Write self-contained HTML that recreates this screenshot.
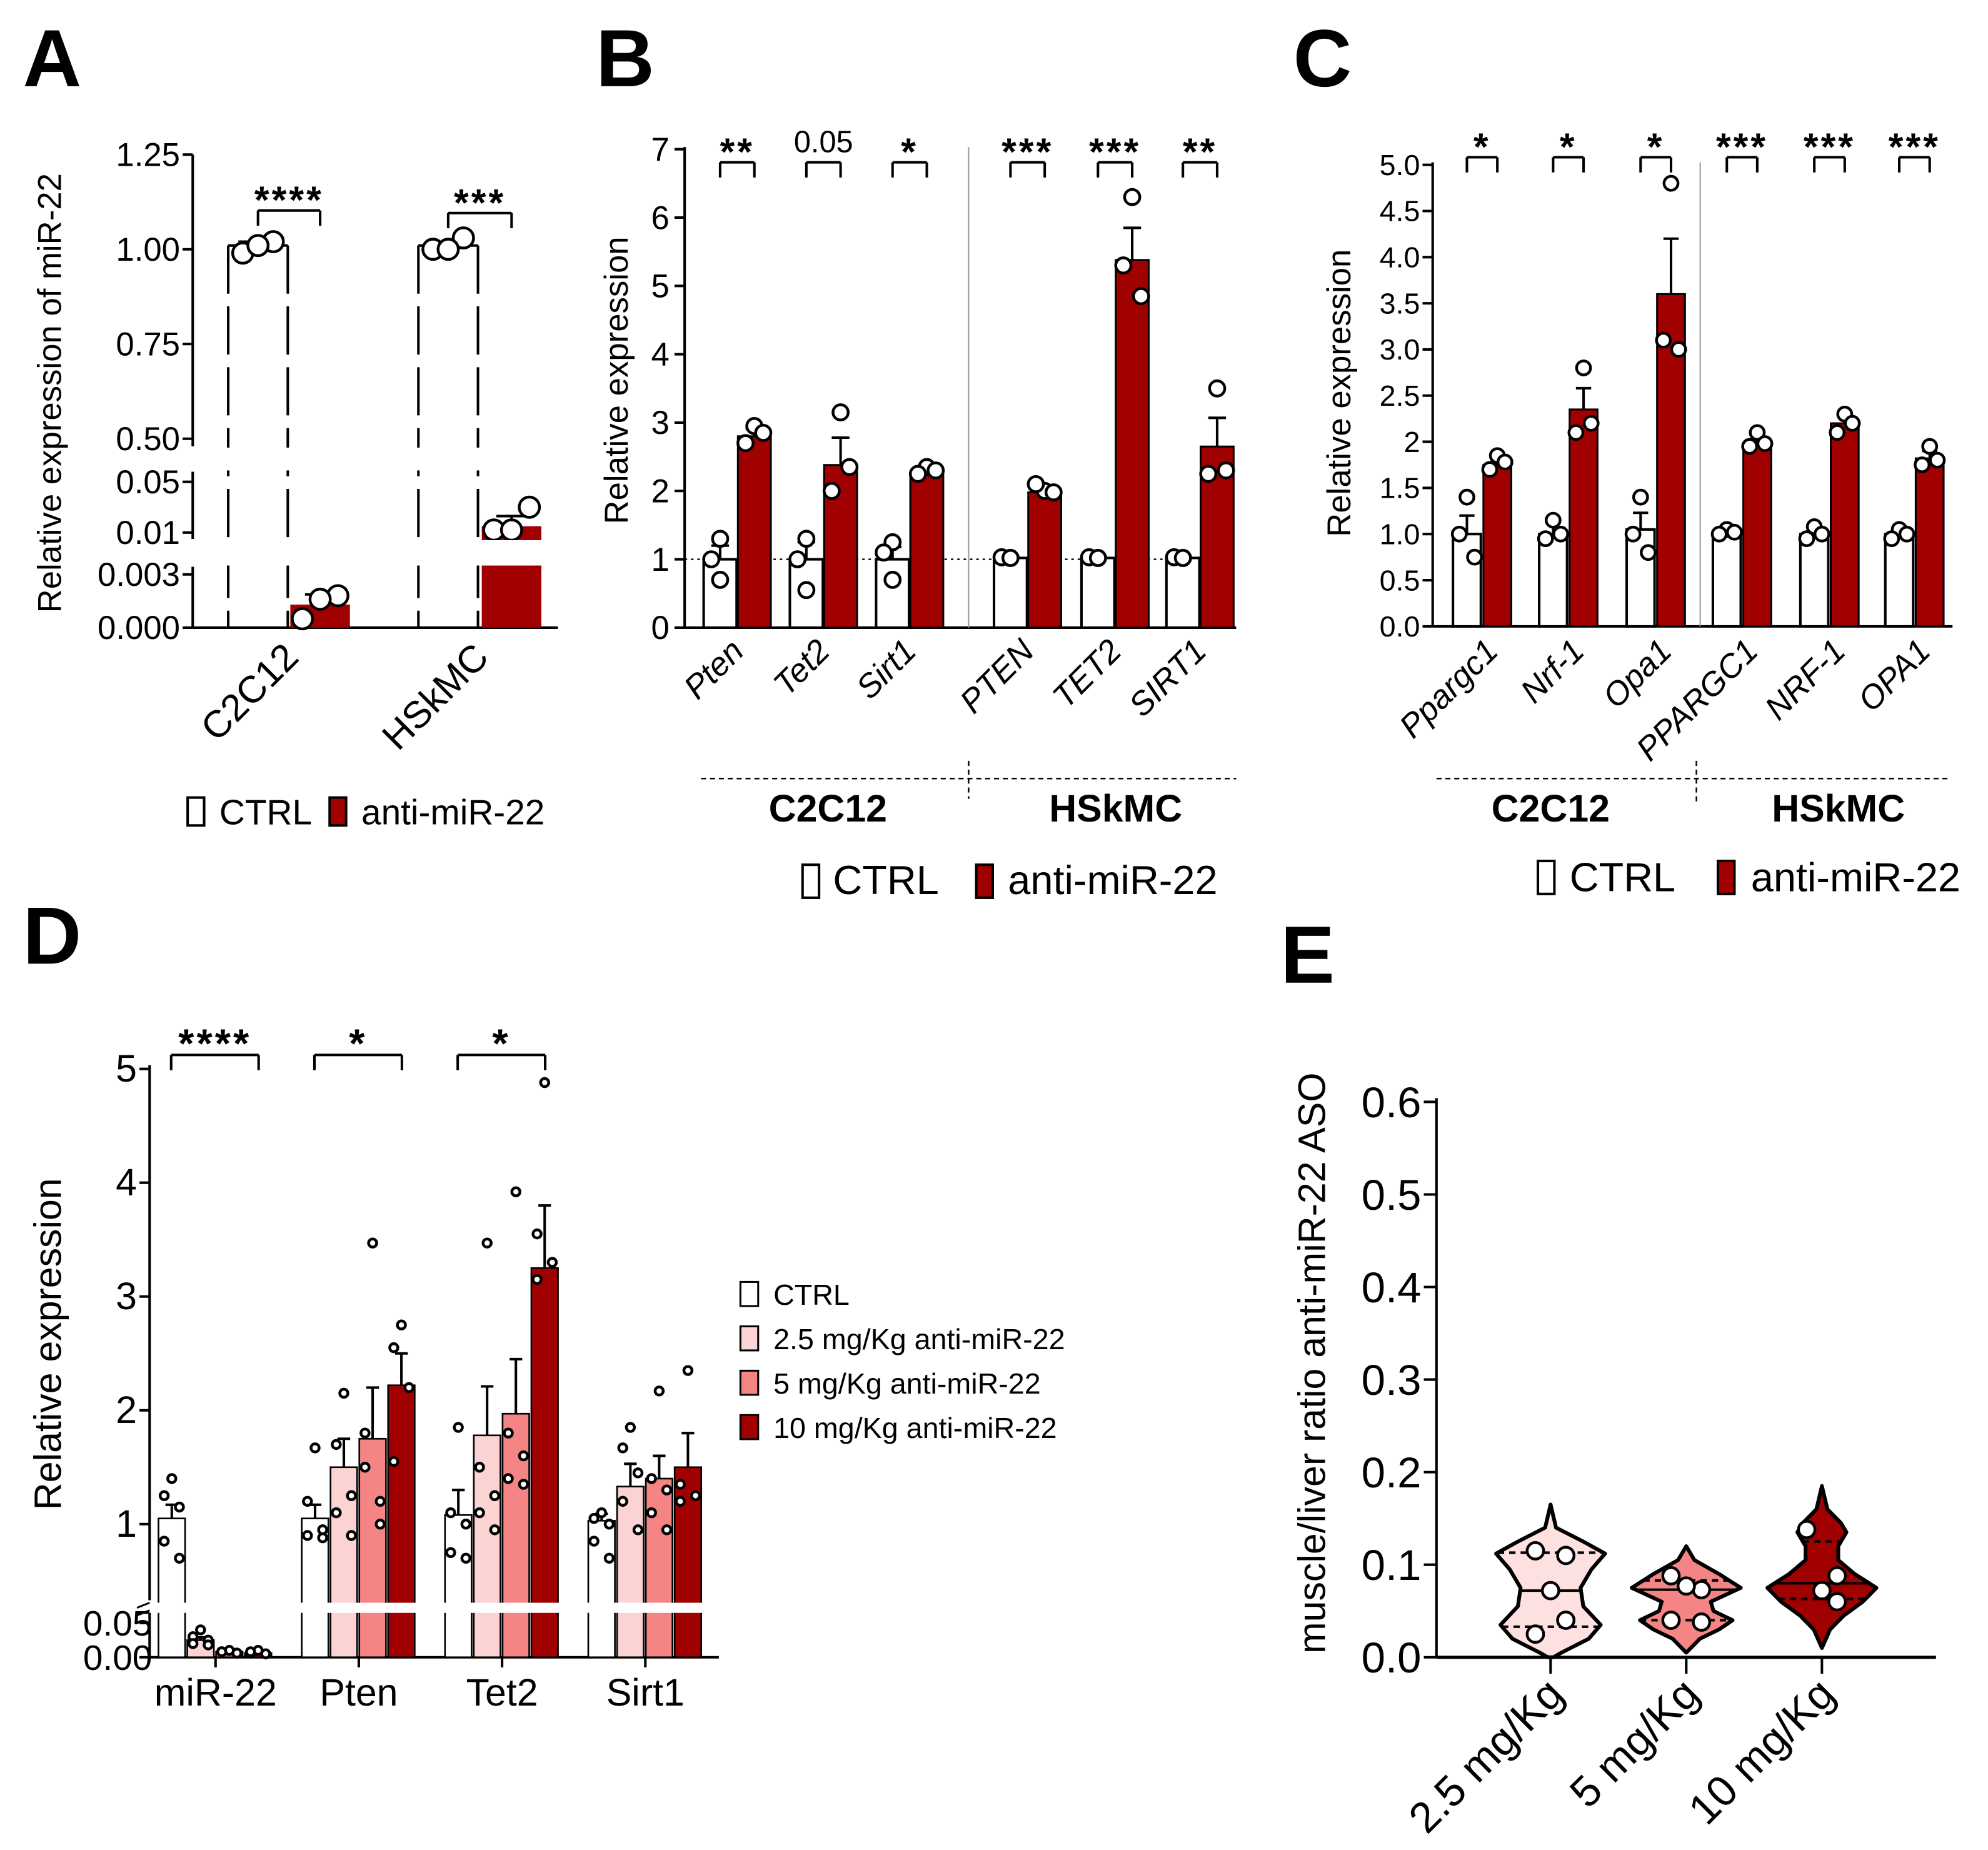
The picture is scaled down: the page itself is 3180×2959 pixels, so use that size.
<!DOCTYPE html>
<html><head><meta charset="utf-8"><style>
html,body{margin:0;padding:0;background:#fff}
svg{display:block;font-family:"Liberation Sans",Arial,sans-serif}
</style></head><body>
<svg id="fig" xmlns="http://www.w3.org/2000/svg" width="3180" height="2959" viewBox="0 0 1568 1459" preserveAspectRatio="none">
<rect width="1568" height="1459" fill="#fff"/>
<text x="18" y="68" font-size="64" font-weight="bold">A</text>
<text x="470" y="68" font-size="64" font-weight="bold">B</text>
<text x="1020" y="68" font-size="64" font-weight="bold">C</text>
<text x="18" y="760" font-size="64" font-weight="bold">D</text>
<text x="1010" y="775" font-size="64" font-weight="bold">E</text>
</svg>
<script>
const RED="#a00000", PINK="#fbd3d3", SALMON="#f58585", LPINK="#fde0e0";
// ---------- data ----------
const aCats=["C2C12","HSkMC"];
const aCtrl=[1.01,1.01];
const aAnti=[0.0013,0.015];
const aCtrlPts=[[0.99,1.02,1.01],[1.0,1.03,1.0]];
const aAntiPts=[[0.0005,0.0018,0.0016],[0.012,0.03,0.012]];
const aSig=["****","***"];
const bCats=["Pten","Tet2","Sirt1","PTEN","TET2","SIRT1"];
const bCtrl=[1.0,1.0,1.0,1.02,1.02,1.02];
const bAnti=[2.8,2.38,2.28,1.98,5.38,2.65];
const bErr=[0.12,0.4,0.05,0.08,0.47,0.42];
const bCtrlErr=[0.2,0.25,0.18,0.02,0.02,0.02];
const bCtrlPts=[[1.3,1.0,0.7],[1.3,1.0,0.55],[1.25,1.1,0.7],[1.02,1.03,1.02],[1.02,1.03,1.02],[1.02,1.03,1.02]];
const bAntiPts=[[2.95,2.7,2.85],[3.15,2.0,2.35],[2.35,2.25,2.3],[2.0,2.1,1.98],[6.3,5.3,4.85],[3.5,2.25,2.3]];
const bSig=["**","0.05","*","***","***","**"];
const bTicks=[0,1,2,3,4,5,6,7];
const cCats=["Ppargc1","Nrf-1","Opa1","PPARGC1","NRF-1","OPA1"];
const cCtrl=[1.0,1.0,1.05,1.02,1.0,1.0];
const cAnti=[1.75,2.35,3.6,1.98,2.2,1.82];
const cErr=[0.08,0.23,0.6,0.1,0.08,0.08];
const cCtrlErr=[0.2,0.15,0.18,0.05,0.06,0.05];
const cCtrlPts=[[1.4,1.0,0.75],[1.15,0.95,1.0],[1.4,1.0,0.8],[1.05,1.0,1.02],[1.08,0.95,1.0],[1.05,0.95,1.0]];
const cAntiPts=[[1.85,1.7,1.78],[2.8,2.1,2.2],[4.8,3.1,3.0],[2.1,1.95,1.98],[2.3,2.1,2.2],[1.95,1.75,1.8]];
const cSig=["*","*","*","***","***","***"];
const cTicks=["0.0","0.5","1.0","1.5","2","2.5","3.0","3.5","4.0","4.5","5.0"];
const dCats=["miR-22","Pten","Tet2","Sirt1"];
const dSeries=["CTRL","2.5 mg/Kg anti-miR-22","5 mg/Kg anti-miR-22","10 mg/Kg anti-miR-22"];
const dVals=[[1.05,0.025,0.008,0.006],[1.05,1.5,1.75,2.22],[1.08,1.78,1.97,3.25],[1.03,1.33,1.4,1.5]];
const dErr=[[0.12,0.004,0.002,0.002],[0.12,0.25,0.45,0.28],[0.22,0.43,0.48,0.55],[0.06,0.2,0.2,0.3]];
const dPts=[[[1.4,1.25,1.15,0.85,0.7],[0.04,0.03,0.025,0.02,0.018],[0.01,0.008,0.006,0.008,0.006],[0.01,0.006,0.005,0.008]],
[[1.67,1.2,0.95,0.9,0.88],[2.15,1.7,1.25,1.1,0.9],[3.47,1.8,1.2,1.5,1.0],[2.75,2.55,2.2,1.55]],
[[1.85,1.1,1.0,0.75,0.7],[3.47,1.5,1.25,1.1,0.95],[3.92,1.8,1.6,1.4,1.35],[4.88,3.55,3.3,3.15]],
[[1.1,1.05,1.0,0.85,0.7],[1.85,1.67,1.45,1.2,0.95],[2.17,1.4,1.3,1.1,0.95],[2.35,1.35,1.25,1.2]]];
const dSig=["****","*","*",""];
const eCats=["2.5 mg/Kg","5 mg/Kg","10 mg/Kg"];
const eTicks=[0,0.1,0.2,0.3,0.4,0.5,0.6];
const eProfV=[[0.165,0.14,0.125,0.112,0.095,0.075,0.055,0.035,0.02,0.005,0],[0.12,0.105,0.09,0.075,0.06,0.05,0.04,0.03,0.02,0.005],[0.185,0.16,0.145,0.135,0.12,0.105,0.09,0.075,0.06,0.045,0.03,0.01]];
const eProfW=[[0,0.1,0.6,1,0.75,0.55,0.6,0.92,0.7,0.2,0.05],[0,0.15,0.6,1,0.45,0.5,0.85,0.6,0.25,0],[0,0.1,0.35,0.45,0.3,0.3,0.6,1,0.75,0.4,0.15,0]];
const eMed=[0.072,0.073,0.08];
const eQ1=[0.033,0.04,0.063];
const eQ3=[0.113,0.083,0.125];
const ePts=[[0.115,0.11,0.072,0.04,0.025],[0.088,0.073,0.077,0.038,0.04],[0.138,0.088,0.072,0.06]];
// ---------- helpers ----------
const svg=document.getElementById('fig');const NS="http://www.w3.org/2000/svg";
function mk(tag,at,parent){const e=document.createElementNS(NS,tag);for(const k in at)e.setAttribute(k,at[k]);(parent||svg).appendChild(e);return e;}
function line(x1,y1,x2,y2,w,name,dash){const e=mk('line',{x1,y1,x2,y2,stroke:'#000','stroke-width':w||2});if(dash)e.setAttribute('stroke-dasharray',dash);

return e;}
function txt(x,y,s,size,anchor,name,extra){const e=mk('text',{x,y,'font-size':size,'text-anchor':anchor||'start'});e.textContent=s;if(extra)for(const k in extra)e.setAttribute(k,extra[k]);

return e;}
function rect(x,y,w,h,fill,name,sw){const e=mk('rect',{x,y,width:w,height:Math.max(0,h),fill,stroke:'#000','stroke-width':sw==null?2:sw});

return e;}
function dot(x,y,r,name){const e=mk('circle',{cx:x,cy:y,r:r,fill:'#fff',stroke:'#000','stroke-width':2.2});

return e;}
function errb(x,yTop,yErr,cap,name){line(x,yTop,x,yErr,2,name);line(x-cap,yErr,x+cap,yErr,2,name+'-cap');}
function bracket(x1,x2,y,label,size,name){line(x1,y,x2,y,2,name);line(x1,y,x1,y+12,2,name);line(x2,y,x2,y+12,2,name);
txt((x1+x2)/2,label.indexOf('*')>=0?y+2:y-8,label,size,'middle',name+'-label',label.indexOf('*')>=0?{'font-weight':'bold','letter-spacing':'2'}:{});}
const jit=[-8,8,0,-8,8];
// ---------- Panel A ----------
function yA(v){if(v>=0.4)return 346-(v-0.5)/0.25*74.7;if(v>=0.008)return 420-(v-0.01)/0.04*40;return 495-v/0.003*42;}
const axA=152;
line(axA,122,axA,352,2,'a-y-axis-upper');line(axA,372,axA,425,2,'a-y-axis-middle');line(axA,447,axA,495,2,'a-y-axis-lower');
[["1.25",1.25],["1.00",1.0],["0.75",0.75],["0.50",0.5],["0.05",0.05],["0.01",0.01],["0.003",0.003],["0.000",0]].forEach(t=>{const y=yA(t[1]);line(axA-8,y,axA,y,2,'a-y-tick');txt(axA-10,y+9,t[0],26,'end','a-y-tick-label');});
line(axA,495,440,495,2,'a-x-axis');
txt(48,310,"Relative expression of miR-22",26,'middle','a-y-axis-title',{transform:'rotate(-90 48 310)'});
const aX=[[180,229],[330,380]];
aCats.forEach((c,i)=>{
 const cx=aX[i][0],ax=aX[i][1],w=47;
 const top=yA(aCtrl[i]);
 line(cx,top,cx+w,top,2,'a-ctrl-bar-top-'+c);
 line(cx,top,cx,495,2,'a-ctrl-bar-left-'+c,'38 10');line(cx+w,top,cx+w,495,2,'a-ctrl-bar-right-'+c,'38 10');
 rect(ax,yA(aAnti[i]),w,495-yA(aAnti[i]),RED,'a-anti-bar-'+c,0);
 errb(ax+w/2,yA(aAnti[i]),yA(aAnti[i])-8,12,'a-anti-err-'+c);
 line(cx+8,top-3,cx+w-4,top-3,2,'a-ctrl-err-'+c);
 aCtrlPts[i].forEach((v,k)=>dot(cx+w/2+[-12,12,0][k]*1.0+(k==2?0:0),yA(v),8,'a-ctrl-point'));
 aAntiPts[i].forEach((v,k)=>dot(ax+w/2+[-14,14,0][k],yA(v),8,'a-anti-point'));
 bracket(cx+w/2,ax+w/2,i==0?166:168,aSig[i],30,'a-sig-'+c);
 txt(0,0,c,30,'end','a-x-label-'+c,{transform:`translate(${cx+w+10},${520}) rotate(-45)`});
});
// white break bands
mk('rect',{x:175,y:353,width:260,height:18,fill:'#fff'});mk('rect',{x:175,y:426,width:260,height:20,fill:'#fff'});
[["a-break-top",353],["a-break-bottom",428]].forEach(b=>{});
rect(148,629,13,22,'#fff','a-legend-ctrl-swatch');txt(173,650,"CTRL",28,'start','a-legend-ctrl');
rect(260,629,13,22,RED,'a-legend-anti-swatch');txt(285,650,"anti-miR-22",28,'start','a-legend-anti');
// ---------- Panel B ----------
const axB=540,y0B=495,sB=53.9;function yB(v){return y0B-v*sB;}
line(axB,116,axB,495,2,'b-y-axis');line(axB,495,975,495,2,'b-x-axis');
bTicks.forEach(t=>{line(axB-8,yB(t),axB,yB(t),2,'b-y-tick');txt(axB-12,yB(t)+9,String(t),26,'end','b-y-tick-label');});
txt(495,300,"Relative expression",26,'middle','b-y-axis-title',{transform:'rotate(-90 495 300)'});
line(axB,yB(1),975,yB(1),1.2,'b-reference-line','2 3');line(764,116,764,495,1,'b-group-divider','1 0').setAttribute('stroke','#999');
const bCx=[568,636,704,797,866,933];
bCats.forEach((c,i)=>{const w=26,cx=bCx[i]-13,ax=bCx[i]+14;
 rect(cx,yB(bCtrl[i]),w,yB(0)-yB(bCtrl[i]),'#fff','b-ctrl-bar-'+c);
 rect(ax,yB(bAnti[i]),w,yB(0)-yB(bAnti[i]),RED,'b-anti-bar-'+c,1.5);
 errb(cx+w/2,yB(bCtrl[i]),yB(bCtrl[i]+bCtrlErr[i]),7,'b-ctrl-err-'+c);
 errb(ax+w/2,yB(bAnti[i]),yB(bAnti[i]+bErr[i]),7,'b-anti-err-'+c);
 bCtrlPts[i].forEach((v,k)=>dot(cx+w/2+[0,-7,0][k]+(k==0?0:0)+(k==1?0:0),yB(v),6,'b-ctrl-point'));
 bAntiPts[i].forEach((v,k)=>dot(ax+w/2+[0,-7,7][k],yB(v),6,'b-anti-point'));
 bracket(cx+w/2,ax+w/2,128,bSig[i],bSig[i]=="0.05"?24:30,'b-sig-'+c);
 txt(0,0,c,26,'end','b-x-label-'+c,{transform:`translate(${bCx[i]+20},${515}) rotate(-45)`,'font-style':'italic'});
});
line(553,614,975,614,1.2,'b-group-underline','4 3');line(764,600,764,630,1.2,'b-group-sep','4 3');
txt(653,648,"C2C12",30,'middle','b-group-c2c12',{'font-weight':'bold'});txt(880,648,"HSkMC",30,'middle','b-group-hskmc',{'font-weight':'bold'});
rect(633,682,13,26,'#fff','b-legend-ctrl-swatch');txt(657,705,"CTRL",32,'start','b-legend-ctrl');
rect(770,682,13,26,RED,'b-legend-anti-swatch');txt(795,705,"anti-miR-22",32,'start','b-legend-anti');
// ---------- Panel C ----------
const axC=1130,y0C=494,sC=72.8;function yC(v){return y0C-v*sC;}
line(axC,128,axC,494,2,'c-y-axis');line(axC,494,1540,494,2,'c-x-axis');
cTicks.forEach(t=>{const y=yC(parseFloat(t));line(axC-8,y,axC,y,2,'c-y-tick');txt(axC-10,y+8,t,23,'end','c-y-tick-label');});
txt(1065,310,"Relative expression",26,'middle','c-y-axis-title',{transform:'rotate(-90 1065 310)'});
line(1341,128,1341,494,1,'c-group-divider').setAttribute('stroke','#999');
const cCx=[1169,1237,1306,1374,1443,1510];
cCats.forEach((c,i)=>{const w=22,cx=cCx[i]-23,ax=cCx[i]+1;
 rect(cx,yC(cCtrl[i]),w,yC(0)-yC(cCtrl[i]),'#fff','c-ctrl-bar-'+c);
 rect(ax,yC(cAnti[i]),w,yC(0)-yC(cAnti[i]),RED,'c-anti-bar-'+c,1.5);
 errb(cx+w/2,yC(cCtrl[i]),yC(cCtrl[i]+cCtrlErr[i]),6,'c-ctrl-err-'+c);
 errb(ax+w/2,yC(cAnti[i]),yC(cAnti[i]+cErr[i]),6,'c-anti-err-'+c);
 cCtrlPts[i].forEach((v,k)=>dot(cx+w/2+[0,-6,6][k],yC(v),5.5,'c-ctrl-point'));
 cAntiPts[i].forEach((v,k)=>dot(ax+w/2+[0,-6,6][k],yC(v),5.5,'c-anti-point'));
 bracket(cx+w/2,ax+w/2,124,cSig[i],30,'c-sig-'+c);
 txt(0,0,c,26,'end','c-x-label-'+c,{transform:`translate(${cCx[i]+14},${515}) rotate(-45)`,'font-style':'italic'});
});
line(1133,614,1537,614,1.2,'c-group-underline','4 3');line(1338,600,1338,632,1.2,'c-group-sep','4 3');
txt(1223,648,"C2C12",30,'middle','c-group-c2c12',{'font-weight':'bold'});txt(1450,648,"HSkMC",30,'middle','c-group-hskmc',{'font-weight':'bold'});
rect(1213,679,13,26,'#fff','c-legend-ctrl-swatch');txt(1238,703,"CTRL",32,'start','c-legend-ctrl');
rect(1355,679,13,26,RED,'c-legend-anti-swatch');txt(1381,703,"anti-miR-22",32,'start','c-legend-anti');
// ---------- Panel D ----------
function yD(v){if(v>=0.2)return 1202-(v-1)*89.75;return 1307-v*540;}
const axD=118;
line(axD,840,axD,1262,2,'d-y-axis-upper');line(axD,1272,axD,1307,2,'d-y-axis-lower');line(axD,1307,567,1307,2,'d-x-axis');
[["1",1],["2",2],["3",3],["4",4],["5",5]].forEach(t=>{const y=yD(t[1]);line(axD-8,y,axD,y,2,'d-y-tick');txt(axD-10,y+10,t[0],30,'end','d-y-tick-label');});
[["0.05",0.05],["0.00",0]].forEach(t=>{const y=yD(t[1]);line(axD-8,y,axD,y,2,'d-y-tick');txt(axD+2,y+10,t[0],28,'end','d-y-tick-label');});
line(108,1268,118,1264,1.5,'d-break-mark');line(108,1274,118,1270,1.5,'d-break-mark');
txt(48,1060,"Relative expression",30,'middle','d-y-axis-title',{transform:'rotate(-90 48 1060)'});
const dFill=['#fff',PINK,SALMON,RED];const dStarts=[125,238,351,464];
dCats.forEach((c,g)=>{
 dVals[g].forEach((v,s)=>{const x=dStarts[g]+s*22.7,w=21;
  rect(x,yD(v),w,1307-yD(v),dFill[s],'d-bar-'+c+'-'+s,1.3);
  errb(x+w/2,yD(v),yD(v+dErr[g][s]),5,'d-err-'+c+'-'+s);
  dPts[g][s].forEach((p,k)=>dot(x+w/2+[0,-6,6,-6,6][k],yD(p),3.2,'d-point'));
 });
 txt(dStarts[g]+45,1345,c,30,'middle','d-x-label-'+c);
 line(dStarts[g]+45,1307,dStarts[g]+45,1315,2,'d-x-tick');
 if(dSig[g])bracket(dStarts[g]+10,dStarts[g]+79,832,dSig[g],32,'d-sig-'+c);
});
mk('rect',{x:122,y:1264,width:445,height:8,fill:'#fff'});
dSeries.forEach((s,i)=>{const y=1011+i*35;rect(584,y,14,19,dFill[i],'d-legend-swatch-'+i,1.5);txt(610,y+18,s,23,'start','d-legend-entry-'+i);});
// ---------- Panel E ----------
const axE=1133,y0E=1307,sE=730;function yE(v){return y0E-v*sE;}
line(axE,866,axE,1307,2,'e-y-axis');line(axE,1307,1527,1307,2.5,'e-x-axis');
eTicks.forEach(t=>{const y=yE(t);line(axE-10,y,axE,y,2,'e-y-tick');txt(axE-12,y+12,t.toFixed(1),34,'end','e-y-tick-label');});
txt(1045,1075,"muscle/liver ratio anti-miR-22 ASO",30,'middle','e-y-axis-title',{transform:'rotate(-90 1045 1075)'});
const eCx=[1223,1330,1437],eFill=[LPINK,SALMON,RED],eMax=43;
eCats.forEach((c,i)=>{const cx=eCx[i];
 const V=eProfV[i],W=eProfW[i];let d='';
 V.forEach((v,k)=>{d+=(k?'L':'M')+(cx+W[k]*eMax)+','+yE(v)});
 for(let k=V.length-1;k>=0;k--)d+='L'+(cx-W[k]*eMax)+','+yE(V[k]);d+='Z';
 const p=mk('path',{d,fill:eFill[i],stroke:'#000','stroke-width':3,'stroke-linejoin':'round'});
 
 
 function wAt(v){for(let k=0;k<V.length-1;k++){if(v<=V[k]&&v>=V[k+1]){const t=(V[k]-v)/(V[k]-V[k+1]);return (W[k]+(W[k+1]-W[k])*t)*eMax;}}return 0;}
 line(cx-wAt(eMed[i]),yE(eMed[i]),cx+wAt(eMed[i]),yE(eMed[i]),2,'e-median-'+c);
 line(cx-wAt(eQ1[i]),yE(eQ1[i]),cx+wAt(eQ1[i]),yE(eQ1[i]),2,'e-q1-'+c,'5 4');
 line(cx-wAt(eQ3[i]),yE(eQ3[i]),cx+wAt(eQ3[i]),yE(eQ3[i]),2,'e-q3-'+c,'5 4');
 ePts[i].forEach((v,k)=>dot(cx+[-12,12,0,12,-12][k],yE(v),6.5,'e-point'));
 line(cx,1307,cx,1320,2,'e-x-tick');
 txt(0,0,c,34,'end','e-x-label-'+c,{transform:`translate(${cx+12},${1338}) rotate(-45)`});
});
</script>
</body></html>
